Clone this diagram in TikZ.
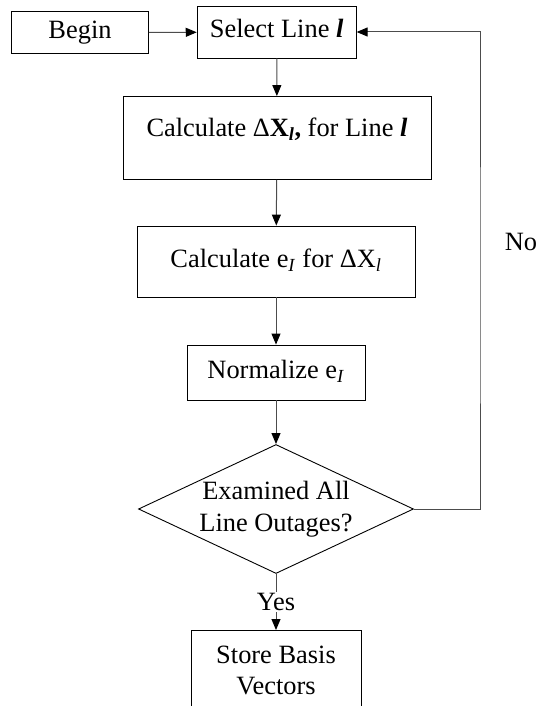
\documentclass[tikz,border=0pt]{standalone}
\usepackage{fontspec}
\setmainfont{Liberation Serif}
\usetikzlibrary{arrows.meta,shapes.geometric}
\tikzset{
  >={Triangle[length=11pt,width=9pt,color=black]},
  box/.style={draw, line width=0.9pt, inner sep=0pt, text height=18pt, text depth=6pt},
  decision/.style={draw, diamond, line width=0.9pt, inner sep=0pt, aspect=2.13, align=center},
  flow/.style={->, line width=1pt, draw=black!70}
}
\begin{document}
\begin{tikzpicture}[x=1pt, y=-1pt, font=\fontsize{26.4}{31.7}\selectfont]
            \clip (0,0) rectangle (542,706);
            \node[box, minimum width=137pt, minimum height=42pt] (begin) at (80,32.7) {Begin};
            \node[box, minimum width=159pt, minimum height=52pt] (select) at (276.7,32) {Select Line \textbf{\textit{l}}};
            \node[box, minimum width=308pt, minimum height=83pt, text depth=22pt] (calcx) at (277,138) {Calculate Δ\textbf{X\textsubscript{\textit{l}},} for Line \textbf{\textit{l}}};
            \node[box, minimum width=278pt, minimum height=71pt] (calce) at (276,261.5) {Calculate e\textsubscript{\textit{I}} for ΔX\textsubscript{\textit{l}}};
            \node[box, minimum width=178pt, minimum height=55pt] (norm) at (276,372.5) {Normalize e\textsubscript{\textit{I}}};
            \node[decision, minimum width=275pt, minimum height=129pt] (check) at (276,509) {Examined All\\Line Outages?};
            \node[draw, line width=0.9pt, align=center, minimum width=170pt, minimum height=80pt, anchor=north] (store) at (276,630) {Store Basis\\Vectors};
            \node (no) at (521,242) {No};
            \coordinate (back) at (480,300);
            \draw[flow] (begin) -- (select);
            \draw[flow] (select) -- (calcx);
            \draw[flow] (calcx) -- (calce);
            \draw[flow] (calce) -- (norm);
            \draw[flow] (norm) -- (check);
            \draw[flow] (check) -- node[fill=white, inner sep=1pt] {Yes} (store);
            \draw[flow] (check.east) -| (back) |- (select.east);
        \end{tikzpicture}
\end{document}
